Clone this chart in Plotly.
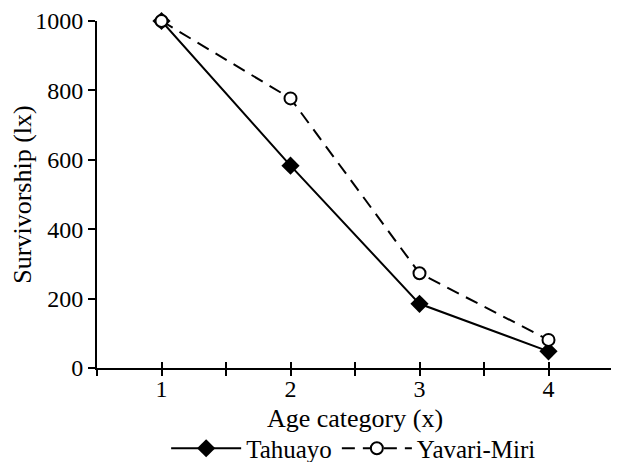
import plotly.graph_objects as go

age = [1, 2, 3, 4]
tahuayo = [1000, 583, 185, 48]
yavari = [1000, 777, 273, 81]
x_tickvals = [0.5, 1, 1.5, 2, 2.5, 3, 3.5, 4, 4.5]
x_ticktext = ["", "1", "", "2", "", "3", "", "4", ""]
y_tickvals = [0, 200, 400, 600, 800, 1000]

FONT = "Liberation Serif"

fig = go.Figure()
fig.add_trace(go.Scatter(
    x=age, y=tahuayo, name="Tahuayo", mode="lines+markers",
    line=dict(color="black", width=2),
    marker=dict(symbol="diamond", size=14, color="black"),
    cliponaxis=False,
))
fig.add_trace(go.Scatter(
    x=age, y=yavari, name="Yavari-Miri", mode="lines+markers",
    line=dict(color="black", width=2, dash="13px,8px"),
    marker=dict(symbol="circle", size=12, color="white", line=dict(color="black", width=2)),
    cliponaxis=False,
))
# invisible trace to activate the overlaid axis carrying the inner tick half
fig.add_trace(go.Scatter(x=[None], y=[None], xaxis="x2", showlegend=False, hoverinfo="skip"))

# the page body adds an 8px offset, margins compensate for it
fig.update_layout(
    template="none",
    width=619, height=462,
    margin=dict(l=89, r=14, t=13, b=102, autoexpand=False),
    paper_bgcolor="white", plot_bgcolor="white",
    font=dict(family=FONT, size=25, color="black"),
    showlegend=True,
    legend=dict(orientation="h", x=0.134, xanchor="left",
                y=-0.232, yanchor="middle", itemwidth=70,
                font=dict(family=FONT, size=25, color="black"),
                bgcolor="rgba(0,0,0,0)"),
    xaxis=dict(range=[0.5, 4.5], tickvals=x_tickvals, ticktext=x_ticktext,
               ticks="outside", ticklen=6, tickwidth=2, tickcolor="black",
               ticklabelstandoff=-8,
               tickfont=dict(family=FONT, size=24, color="black"),
               showline=True, linecolor="black", linewidth=2,
               showgrid=False, zeroline=False, automargin=False,
               title=dict(text="Age category (x)", standoff=8,
                          font=dict(family=FONT, size=26, color="black"))),
    xaxis2=dict(range=[0.5, 4.5], tickvals=x_tickvals, showticklabels=False,
                ticks="inside", ticklen=6, tickwidth=2, tickcolor="black",
                overlaying="x", side="bottom", showgrid=False, zeroline=False,
                showline=False, automargin=False),
    yaxis=dict(range=[0, 1000], tickvals=y_tickvals,
               ticks="outside", ticklen=7, tickwidth=2, tickcolor="black",
               tickfont=dict(family=FONT, size=24, color="black"),
               showline=True, linecolor="black", linewidth=2,
               showgrid=False, zeroline=False, automargin=False,
               title=dict(text="Survivorship (lx)", standoff=0,
                          font=dict(family=FONT, size=26, color="black"))),
)

fig.write_html("out.html")
